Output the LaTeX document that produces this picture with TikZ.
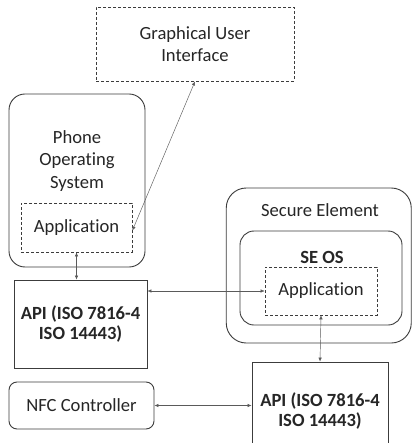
\documentclass[tikz,border=0pt]{standalone}
\usepackage{fontspec}
\setmainfont[Ligatures=NoCommon]{Carlito}
\usetikzlibrary{arrows.meta}
\definecolor{edge}{HTML}{3C3C3C}
\definecolor{ink}{HTML}{262626}
\definecolor{wire}{HTML}{5A5A5A}
\begin{document}
\begin{tikzpicture}[x=1bp,y=-1bp,
  every node/.style={font=\fontsize{18.6bp}{22bp}\selectfont, text=ink, inner sep=0pt},
  solidbox/.style={draw=edge, line width=0.9bp, minimum width=#1},
  roundbox/.style={draw=edge, line width=0.9bp, rounded corners=#1},
  dashbox/.style={draw=edge, line width=0.8bp, dash pattern=on 3bp off 2bp},
  link/.style={draw=wire, line width=0.45bp, {Latex[length=4bp,width=3.5bp]}-{Latex[length=4bp,width=3.5bp]}},
  label/.style={align=center}]
  \clip (0,0) rectangle (412,443);
  \fill[white] (0,0) rectangle (412,443);

  % graphical user interface
  \node[dashbox, minimum width=198bp, minimum height=74bp, align=center] (gui) at (195,44)
    {Graphical User\\Interface};

  % phone side
  \node[roundbox=16bp, minimum width=136bp, minimum height=173bp] (phone) at (77,180.5) {};
  \node[label, font=\fontsize{18.6bp}{22.5bp}\selectfont] (phonetxt) at (77,161) {Phone\\Operating\\System};
  \node[dashbox, minimum width=111bp, minimum height=49bp] (appL) at (76.5,227.5) {Application};
  \node[solidbox=133bp, minimum height=88bp, align=center, font=\fontsize{18.6bp}{20bp}\selectfont\bfseries] (apiL) at (80.5,324)
    {API (ISO 7816-4\\ISO 14443)};

  % secure element side
  \node[roundbox=20bp, minimum width=185bp, minimum height=155bp] (se) at (318.75,265.5) {};
  \node[label] (setxt) at (320,210) {Secure Element};
  \node[roundbox=14bp, minimum width=162bp, minimum height=94bp] (seos) at (321,278) {};
  \node[label, font=\fontsize{18.6bp}{22bp}\selectfont\bfseries] (seostxt) at (322,257) {SE OS};
  \node[dashbox, minimum width=112bp, minimum height=48bp] (appR) at (321,291) {Application};
  \node[solidbox=136bp, minimum height=98bp] (apiR) at (320,411) {};
  \node[label, font=\fontsize{18.6bp}{20bp}\selectfont\bfseries] (apiRtxt) at (320,411)
    {API (ISO 7816-4\\ISO 14443)};

  % nfc controller
  \node[roundbox=8bp, minimum width=145bp, minimum height=47bp] (nfc) at (81.5,405.5) {NFC Controller};

  % connectors
  \draw[link] ([yshift=-3bp]appL.east) -- (gui.south);
  \draw[link] (appL.south) -- (appL.south |- apiL.north);
  \draw[link] (appR.west -| apiL.east) -- (appR.west);
  \draw[link] (appR.south) -- (apiR.north);
  \draw[link] (nfc.east) -- (nfc.east -| apiR.west);
\end{tikzpicture}
\end{document}
